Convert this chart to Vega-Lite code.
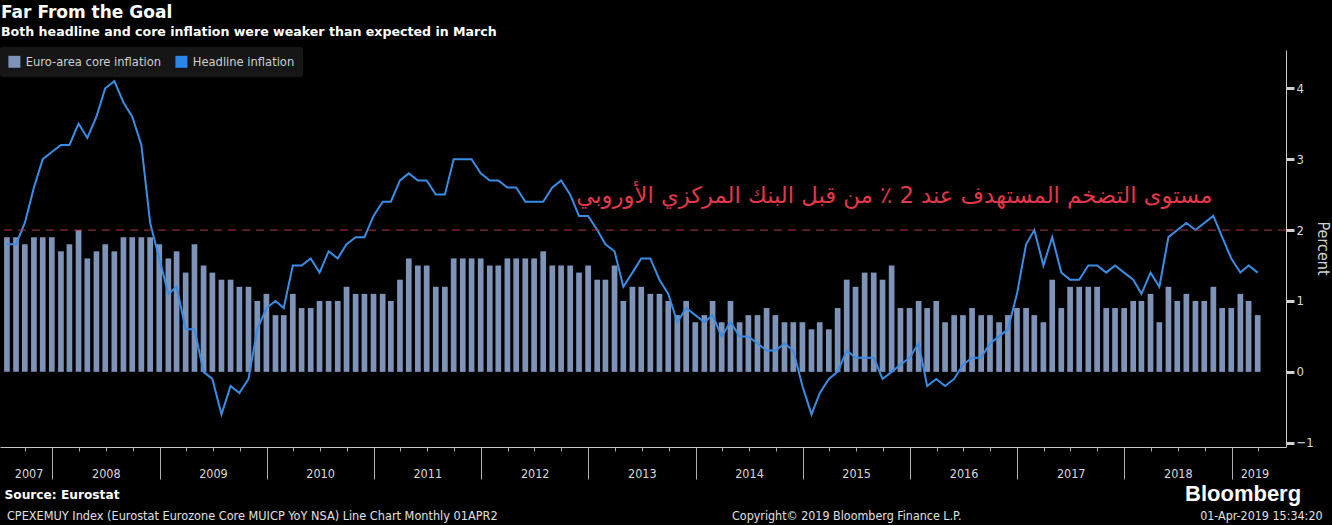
{
  "$schema": "https://vega.github.io/schema/vega-lite/v6.json",
  "autosize": "none",
  "width": 1286,
  "height": 397,
  "padding": {"left": 0, "top": 50, "right": 46, "bottom": 78},
  "background": "#000000",
  "config": {"view": {"stroke": null}},
  "title": {
    "text": "Far From the Goal",
    "subtitle": "Both headline and core inflation were weaker than expected in March",
    "anchor": "start",
    "frame": "group",
    "font": "DejaVu Sans",
    "fontSize": 17,
    "fontWeight": "bold",
    "color": "#ffffff",
    "subtitleFont": "DejaVu Sans",
    "subtitleFontSize": 12.6,
    "subtitleFontWeight": "bold",
    "subtitleColor": "#ffffff",
    "subtitlePadding": 4,
    "offset": 7,
    "dx": 1
  },
  "resolve": {"axis": {"x": "independent"}},
  "data": {
    "values": [
      {"date": "2007-07-31", "core": 1.9, "headline": 1.8},
      {"date": "2007-08-31", "core": 1.9, "headline": 1.8},
      {"date": "2007-09-30", "core": 1.8, "headline": 2.1},
      {"date": "2007-10-31", "core": 1.9, "headline": 2.6},
      {"date": "2007-11-30", "core": 1.9, "headline": 3.0},
      {"date": "2007-12-31", "core": 1.9, "headline": 3.1},
      {"date": "2008-01-31", "core": 1.7, "headline": 3.2},
      {"date": "2008-02-29", "core": 1.8, "headline": 3.2},
      {"date": "2008-03-31", "core": 2.0, "headline": 3.5},
      {"date": "2008-04-30", "core": 1.6, "headline": 3.3},
      {"date": "2008-05-31", "core": 1.7, "headline": 3.6},
      {"date": "2008-06-30", "core": 1.8, "headline": 4.0},
      {"date": "2008-07-31", "core": 1.7, "headline": 4.1},
      {"date": "2008-08-31", "core": 1.9, "headline": 3.8},
      {"date": "2008-09-30", "core": 1.9, "headline": 3.6},
      {"date": "2008-10-31", "core": 1.9, "headline": 3.2},
      {"date": "2008-11-30", "core": 1.9, "headline": 2.1},
      {"date": "2008-12-31", "core": 1.8, "headline": 1.6},
      {"date": "2009-01-31", "core": 1.6, "headline": 1.1},
      {"date": "2009-02-28", "core": 1.7, "headline": 1.2},
      {"date": "2009-03-31", "core": 1.4, "headline": 0.6},
      {"date": "2009-04-30", "core": 1.8, "headline": 0.6},
      {"date": "2009-05-31", "core": 1.5, "headline": 0.0},
      {"date": "2009-06-30", "core": 1.4, "headline": -0.1},
      {"date": "2009-07-31", "core": 1.3, "headline": -0.6},
      {"date": "2009-08-31", "core": 1.3, "headline": -0.2},
      {"date": "2009-09-30", "core": 1.2, "headline": -0.3},
      {"date": "2009-10-31", "core": 1.2, "headline": -0.1},
      {"date": "2009-11-30", "core": 1.0, "headline": 0.6},
      {"date": "2009-12-31", "core": 1.1, "headline": 0.9},
      {"date": "2010-01-31", "core": 0.8, "headline": 1.0},
      {"date": "2010-02-28", "core": 0.8, "headline": 0.9},
      {"date": "2010-03-31", "core": 1.1, "headline": 1.5},
      {"date": "2010-04-30", "core": 0.9, "headline": 1.5},
      {"date": "2010-05-31", "core": 0.9, "headline": 1.6},
      {"date": "2010-06-30", "core": 1.0, "headline": 1.4},
      {"date": "2010-07-31", "core": 1.0, "headline": 1.7},
      {"date": "2010-08-31", "core": 1.0, "headline": 1.6},
      {"date": "2010-09-30", "core": 1.2, "headline": 1.8},
      {"date": "2010-10-31", "core": 1.1, "headline": 1.9},
      {"date": "2010-11-30", "core": 1.1, "headline": 1.9},
      {"date": "2010-12-31", "core": 1.1, "headline": 2.2},
      {"date": "2011-01-31", "core": 1.1, "headline": 2.4},
      {"date": "2011-02-28", "core": 1.0, "headline": 2.4},
      {"date": "2011-03-31", "core": 1.3, "headline": 2.7},
      {"date": "2011-04-30", "core": 1.6, "headline": 2.8},
      {"date": "2011-05-31", "core": 1.5, "headline": 2.7},
      {"date": "2011-06-30", "core": 1.5, "headline": 2.7},
      {"date": "2011-07-31", "core": 1.2, "headline": 2.5},
      {"date": "2011-08-31", "core": 1.2, "headline": 2.5},
      {"date": "2011-09-30", "core": 1.6, "headline": 3.0},
      {"date": "2011-10-31", "core": 1.6, "headline": 3.0},
      {"date": "2011-11-30", "core": 1.6, "headline": 3.0},
      {"date": "2011-12-31", "core": 1.6, "headline": 2.8},
      {"date": "2012-01-31", "core": 1.5, "headline": 2.7},
      {"date": "2012-02-29", "core": 1.5, "headline": 2.7},
      {"date": "2012-03-31", "core": 1.6, "headline": 2.6},
      {"date": "2012-04-30", "core": 1.6, "headline": 2.6},
      {"date": "2012-05-31", "core": 1.6, "headline": 2.4},
      {"date": "2012-06-30", "core": 1.6, "headline": 2.4},
      {"date": "2012-07-31", "core": 1.7, "headline": 2.4},
      {"date": "2012-08-31", "core": 1.5, "headline": 2.6},
      {"date": "2012-09-30", "core": 1.5, "headline": 2.7},
      {"date": "2012-10-31", "core": 1.5, "headline": 2.5},
      {"date": "2012-11-30", "core": 1.4, "headline": 2.2},
      {"date": "2012-12-31", "core": 1.5, "headline": 2.2},
      {"date": "2013-01-31", "core": 1.3, "headline": 2.0},
      {"date": "2013-02-28", "core": 1.3, "headline": 1.8},
      {"date": "2013-03-31", "core": 1.5, "headline": 1.7},
      {"date": "2013-04-30", "core": 1.0, "headline": 1.2},
      {"date": "2013-05-31", "core": 1.2, "headline": 1.4},
      {"date": "2013-06-30", "core": 1.2, "headline": 1.6},
      {"date": "2013-07-31", "core": 1.1, "headline": 1.6},
      {"date": "2013-08-31", "core": 1.1, "headline": 1.3},
      {"date": "2013-09-30", "core": 1.0, "headline": 1.1},
      {"date": "2013-10-31", "core": 0.8, "headline": 0.7},
      {"date": "2013-11-30", "core": 1.0, "headline": 0.9},
      {"date": "2013-12-31", "core": 0.7, "headline": 0.8},
      {"date": "2014-01-31", "core": 0.8, "headline": 0.7},
      {"date": "2014-02-28", "core": 1.0, "headline": 0.8},
      {"date": "2014-03-31", "core": 0.7, "headline": 0.5},
      {"date": "2014-04-30", "core": 1.0, "headline": 0.7},
      {"date": "2014-05-31", "core": 0.7, "headline": 0.5},
      {"date": "2014-06-30", "core": 0.8, "headline": 0.5},
      {"date": "2014-07-31", "core": 0.8, "headline": 0.4},
      {"date": "2014-08-31", "core": 0.9, "headline": 0.3},
      {"date": "2014-09-30", "core": 0.8, "headline": 0.3},
      {"date": "2014-10-31", "core": 0.7, "headline": 0.4},
      {"date": "2014-11-30", "core": 0.7, "headline": 0.3},
      {"date": "2014-12-31", "core": 0.7, "headline": -0.2},
      {"date": "2015-01-31", "core": 0.6, "headline": -0.6},
      {"date": "2015-02-28", "core": 0.7, "headline": -0.3},
      {"date": "2015-03-31", "core": 0.6, "headline": -0.1},
      {"date": "2015-04-30", "core": 0.9, "headline": 0.0},
      {"date": "2015-05-31", "core": 1.3, "headline": 0.3},
      {"date": "2015-06-30", "core": 1.2, "headline": 0.2},
      {"date": "2015-07-31", "core": 1.4, "headline": 0.2},
      {"date": "2015-08-31", "core": 1.4, "headline": 0.2},
      {"date": "2015-09-30", "core": 1.3, "headline": -0.1},
      {"date": "2015-10-31", "core": 1.5, "headline": 0.0},
      {"date": "2015-11-30", "core": 0.9, "headline": 0.1},
      {"date": "2015-12-31", "core": 0.9, "headline": 0.2},
      {"date": "2016-01-31", "core": 1.0, "headline": 0.4},
      {"date": "2016-02-29", "core": 0.9, "headline": -0.2},
      {"date": "2016-03-31", "core": 1.0, "headline": -0.1},
      {"date": "2016-04-30", "core": 0.7, "headline": -0.2},
      {"date": "2016-05-31", "core": 0.8, "headline": -0.1},
      {"date": "2016-06-30", "core": 0.8, "headline": 0.1},
      {"date": "2016-07-31", "core": 0.9, "headline": 0.2},
      {"date": "2016-08-31", "core": 0.8, "headline": 0.2},
      {"date": "2016-09-30", "core": 0.8, "headline": 0.4},
      {"date": "2016-10-31", "core": 0.7, "headline": 0.5},
      {"date": "2016-11-30", "core": 0.8, "headline": 0.6},
      {"date": "2016-12-31", "core": 0.9, "headline": 1.1},
      {"date": "2017-01-31", "core": 0.9, "headline": 1.8},
      {"date": "2017-02-28", "core": 0.8, "headline": 2.0},
      {"date": "2017-03-31", "core": 0.7, "headline": 1.5},
      {"date": "2017-04-30", "core": 1.3, "headline": 1.9},
      {"date": "2017-05-31", "core": 0.9, "headline": 1.4},
      {"date": "2017-06-30", "core": 1.2, "headline": 1.3},
      {"date": "2017-07-31", "core": 1.2, "headline": 1.3},
      {"date": "2017-08-31", "core": 1.2, "headline": 1.5},
      {"date": "2017-09-30", "core": 1.2, "headline": 1.5},
      {"date": "2017-10-31", "core": 0.9, "headline": 1.4},
      {"date": "2017-11-30", "core": 0.9, "headline": 1.5},
      {"date": "2017-12-31", "core": 0.9, "headline": 1.4},
      {"date": "2018-01-31", "core": 1.0, "headline": 1.3},
      {"date": "2018-02-28", "core": 1.0, "headline": 1.1},
      {"date": "2018-03-31", "core": 1.1, "headline": 1.4},
      {"date": "2018-04-30", "core": 0.7, "headline": 1.2},
      {"date": "2018-05-31", "core": 1.2, "headline": 1.9},
      {"date": "2018-06-30", "core": 1.0, "headline": 2.0},
      {"date": "2018-07-31", "core": 1.1, "headline": 2.1},
      {"date": "2018-08-31", "core": 1.0, "headline": 2.0},
      {"date": "2018-09-30", "core": 1.0, "headline": 2.1},
      {"date": "2018-10-31", "core": 1.2, "headline": 2.2},
      {"date": "2018-11-30", "core": 0.9, "headline": 1.9},
      {"date": "2018-12-31", "core": 0.9, "headline": 1.6},
      {"date": "2019-01-31", "core": 1.1, "headline": 1.4},
      {"date": "2019-02-28", "core": 1.0, "headline": 1.5},
      {"date": "2019-03-31", "core": 0.8, "headline": 1.4}
    ]
  },
  "layer": [
    {
      "mark": {"type": "bar", "width": 5.7},
      "encoding": {
        "x": {
          "field": "date",
          "type": "temporal",
          "scale": {
            "type": "utc",
            "domain": [
              {"year": 2007, "month": 7, "date": 24, "hours": 12, "utc": true},
              {"year": 2019, "month": 6, "date": 18, "hours": 10, "utc": true}
            ]
          },
          "axis": {
            "orient": "bottom",
            "title": "Source: Eurostat",
            "titleX": 4,
            "titleY": 47,
            "titleAlign": "left",
            "titleBaseline": "middle",
            "titleFont": "DejaVu Sans",
            "titleFontSize": 12.2,
            "titleFontWeight": "bold",
            "titleColor": "#ffffff",
            "grid": false,
            "domainColor": "#c8c8c8",
            "tickColor": "#b0b0b0",
            "tickSize": 32,
            "labels": false,
            "values": [
              {"year": 2008, "month": 1, "date": 1, "utc": true},
              {"year": 2009, "month": 1, "date": 1, "utc": true},
              {"year": 2010, "month": 1, "date": 1, "utc": true},
              {"year": 2011, "month": 1, "date": 1, "utc": true},
              {"year": 2012, "month": 1, "date": 1, "utc": true},
              {"year": 2013, "month": 1, "date": 1, "utc": true},
              {"year": 2014, "month": 1, "date": 1, "utc": true},
              {"year": 2015, "month": 1, "date": 1, "utc": true},
              {"year": 2016, "month": 1, "date": 1, "utc": true},
              {"year": 2017, "month": 1, "date": 1, "utc": true},
              {"year": 2018, "month": 1, "date": 1, "utc": true},
              {"year": 2019, "month": 1, "date": 1, "utc": true}
            ]
          }
        },
        "y": {
          "field": "core",
          "type": "quantitative",
          "scale": {"domain": [-1.06, 4.54], "nice": false, "zero": false},
          "axis": {
            "orient": "right",
            "title": "Percent",
            "titleX": 36,
            "titleY": 198,
            "titleAngle": 90,
            "titleAlign": "center",
            "titleBaseline": "middle",
            "titleFont": "DejaVu Sans Condensed, Liberation Sans, sans-serif",
            "titleFontSize": 16,
            "titleFontWeight": "normal",
            "titleColor": "#cfcfcf",
            "grid": false,
            "domainColor": "#c8c8c8",
            "tickColor": "#d0d0d0",
            "values": [-1, -0.5, 0, 0.5, 1, 1.5, 2, 2.5, 3, 3.5, 4, 4.5],
            "tickSize": {"expr": "datum.value % 1 == 0 ? 8 : 4"},
            "tickWidth": {"expr": "datum.value % 1 == 0 ? 3 : 1"},
            "labelExpr": "datum.value % 1 == 0 ? format(datum.value, 'd') : ''",
            "labelFont": "DejaVu Sans Condensed, Liberation Sans, sans-serif",
            "labelFontSize": 13,
            "labelColor": "#d9d9d9",
            "labelPadding": 2,
            "labelAlign": "left",
            "labelBaseline": "middle",
            "labelOverlap": false,
            "labelFlush": false
          }
        },
        "color": {
          "datum": "Euro-area core inflation",
          "scale": {
            "domain": ["Euro-area core inflation", "Headline inflation"],
            "range": ["#7d93b8", "#2a87ea"]
          },
          "legend": {
            "orient": "none",
            "legendX": 0,
            "legendY": -3,
            "direction": "horizontal",
            "title": null,
            "fillColor": "#161616",
            "padding": 8,
            "cornerRadius": 2,
            "symbolType": "square",
            "symbolSize": 144,
            "symbolStrokeWidth": 0,
            "symbolOpacity": 1,
            "labelFont": "DejaVu Sans Condensed, Liberation Sans, sans-serif",
            "labelFontSize": 12.8,
            "labelColor": "#d0d0d0",
            "labelOffset": 5,
            "columnPadding": 14
          }
        }
      }
    },
    {
      "mark": {"type": "line", "color": "#3a8de4", "strokeWidth": 2},
      "encoding": {
        "x": {
          "field": "date",
          "type": "temporal",
          "axis": {
            "orient": "bottom",
            "title": null,
            "grid": false,
            "domain": false,
            "labels": false,
            "tickSize": 4,
            "tickColor": "#b0b0b0",
            "values": [
              {"year": 2007, "month": 10, "date": 1, "utc": true},
              {"year": 2008, "month": 4, "date": 1, "utc": true},
              {"year": 2008, "month": 7, "date": 1, "utc": true},
              {"year": 2008, "month": 10, "date": 1, "utc": true},
              {"year": 2009, "month": 4, "date": 1, "utc": true},
              {"year": 2009, "month": 7, "date": 1, "utc": true},
              {"year": 2009, "month": 10, "date": 1, "utc": true},
              {"year": 2010, "month": 4, "date": 1, "utc": true},
              {"year": 2010, "month": 7, "date": 1, "utc": true},
              {"year": 2010, "month": 10, "date": 1, "utc": true},
              {"year": 2011, "month": 4, "date": 1, "utc": true},
              {"year": 2011, "month": 7, "date": 1, "utc": true},
              {"year": 2011, "month": 10, "date": 1, "utc": true},
              {"year": 2012, "month": 4, "date": 1, "utc": true},
              {"year": 2012, "month": 7, "date": 1, "utc": true},
              {"year": 2012, "month": 10, "date": 1, "utc": true},
              {"year": 2013, "month": 4, "date": 1, "utc": true},
              {"year": 2013, "month": 7, "date": 1, "utc": true},
              {"year": 2013, "month": 10, "date": 1, "utc": true},
              {"year": 2014, "month": 4, "date": 1, "utc": true},
              {"year": 2014, "month": 7, "date": 1, "utc": true},
              {"year": 2014, "month": 10, "date": 1, "utc": true},
              {"year": 2015, "month": 4, "date": 1, "utc": true},
              {"year": 2015, "month": 7, "date": 1, "utc": true},
              {"year": 2015, "month": 10, "date": 1, "utc": true},
              {"year": 2016, "month": 4, "date": 1, "utc": true},
              {"year": 2016, "month": 7, "date": 1, "utc": true},
              {"year": 2016, "month": 10, "date": 1, "utc": true},
              {"year": 2017, "month": 4, "date": 1, "utc": true},
              {"year": 2017, "month": 7, "date": 1, "utc": true},
              {"year": 2017, "month": 10, "date": 1, "utc": true},
              {"year": 2018, "month": 4, "date": 1, "utc": true},
              {"year": 2018, "month": 7, "date": 1, "utc": true},
              {"year": 2018, "month": 10, "date": 1, "utc": true},
              {"year": 2019, "month": 4, "date": 1, "utc": true}
            ]
          }
        },
        "y": {"field": "headline", "type": "quantitative"}
      }
    },
    {
      "data": {"values": [{"target": 2}]},
      "mark": {"type": "rule", "color": "#b3333f", "strokeWidth": 1, "strokeDash": [8, 6]},
      "encoding": {"y": {"field": "target", "type": "quantitative"}}
    },
    {
      "data": {"values": [{"date": "2018-10-28", "value": 2.38, "label": "مستوى التضخم المستهدف عند 2 ٪ من قبل البنك المركزي الأوروبي"}]},
      "mark": {"type": "text", "align": "right", "baseline": "alphabetic", "font": "DejaVu Sans", "fontSize": 22.7, "color": "#e3374a"},
      "encoding": {
        "x": {
          "field": "date",
          "type": "temporal",
          "axis": {
            "orient": "bottom",
            "title": null,
            "grid": false,
            "domain": false,
            "ticks": false,
            "tickSize": 0,
            "values": [
              {"year": 2007, "month": 10, "date": 13, "utc": true},
              {"year": 2008, "month": 7, "date": 2, "utc": true},
              {"year": 2009, "month": 7, "date": 2, "utc": true},
              {"year": 2010, "month": 7, "date": 2, "utc": true},
              {"year": 2011, "month": 7, "date": 2, "utc": true},
              {"year": 2012, "month": 7, "date": 2, "utc": true},
              {"year": 2013, "month": 7, "date": 2, "utc": true},
              {"year": 2014, "month": 7, "date": 2, "utc": true},
              {"year": 2015, "month": 7, "date": 2, "utc": true},
              {"year": 2016, "month": 7, "date": 2, "utc": true},
              {"year": 2017, "month": 7, "date": 2, "utc": true},
              {"year": 2018, "month": 7, "date": 2, "utc": true},
              {"year": 2019, "month": 3, "date": 20, "utc": true}
            ],
            "labelExpr": "utcFormat(datum.value, '%Y')",
            "labelFont": "DejaVu Sans Condensed, Liberation Sans, sans-serif",
            "labelFontSize": 12.5,
            "labelColor": "#d9d9d9",
            "labelPadding": 20,
            "labelOverlap": false,
            "labelFlush": false,
            "labelBound": false
          }
        },
        "y": {"field": "value", "type": "quantitative"},
        "text": {"field": "label"}
      }
    },
    {
      "data": {"values": [{"note": "CPEXEMUY Index (Eurostat Eurozone Core MUICP YoY NSA) Line Chart  Monthly 01APR2"}]},
      "mark": {"type": "text", "align": "left", "baseline": "middle", "font": "DejaVu Sans Condensed, Liberation Sans, sans-serif", "fontSize": 12.6, "color": "#e0e0e0"},
      "encoding": {
        "x": {"datum": {"year": 2007, "month": 7, "date": 31, "utc": true}, "type": "temporal", "axis": null},
        "y": {"datum": -2.034, "type": "quantitative"},
        "text": {"field": "note"}
      }
    },
    {
      "data": {"values": [{"note": "Copyright© 2019 Bloomberg Finance L.P."}]},
      "mark": {"type": "text", "align": "center", "baseline": "middle", "font": "DejaVu Sans Condensed, Liberation Sans, sans-serif", "fontSize": 12.4, "color": "#e0e0e0"},
      "encoding": {
        "x": {"datum": {"year": 2015, "month": 5, "date": 31, "utc": true}, "type": "temporal", "axis": null},
        "y": {"datum": -2.034, "type": "quantitative"},
        "text": {"field": "note"}
      }
    },
    {
      "data": {"values": [{"note": "01-Apr-2019 15:34:20"}]},
      "mark": {"type": "text", "align": "right", "baseline": "middle", "font": "DejaVu Sans Condensed, Liberation Sans, sans-serif", "fontSize": 12.4, "color": "#e0e0e0"},
      "encoding": {
        "x": {"datum": {"year": 2019, "month": 11, "date": 7, "utc": true}, "type": "temporal", "axis": null},
        "y": {"datum": -2.034, "type": "quantitative"},
        "text": {"field": "note"}
      }
    },
    {
      "data": {"values": [{"note": "Bloomberg"}]},
      "mark": {"type": "text", "align": "right", "baseline": "middle", "font": "Liberation Sans", "fontWeight": "bold", "fontSize": 22, "color": "#ffffff"},
      "encoding": {
        "x": {"datum": {"year": 2019, "month": 8, "date": 26, "utc": true}, "type": "temporal", "axis": null},
        "y": {"datum": -1.724, "type": "quantitative"},
        "text": {"field": "note"}
      }
    }
  ]
}
